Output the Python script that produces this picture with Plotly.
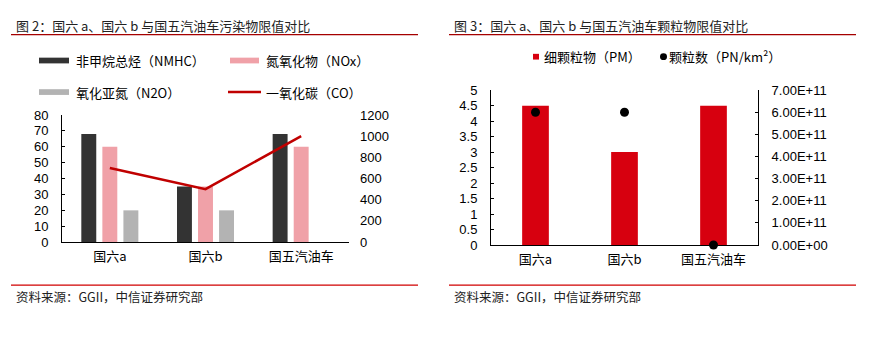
import plotly.graph_objects as go

W, H = 876, 339

# ---------------- data ----------------
categories = ["国六a", "国六b", "国五汽油车"]
nmhc = [68, 35, 68]
nox = [60, 35, 60]
n2o = [20, 20, None]
co = [700, 500, 1000]

pm = [4.5, 3, 4.5]
pn = [6e11, 6e11, 0]

pn_tickvals = [0, 1e11, 2e11, 3e11, 4e11, 5e11, 6e11, 7e11]
pn_ticktext = ["0.00E+00", "1.00E+11", "2.00E+11", "3.00E+11",
               "4.00E+11", "5.00E+11", "6.00E+11", "7.00E+11"]
pm_tickvals = [0, 0.5, 1, 1.5, 2, 2.5, 3, 3.5, 4, 4.5, 5]
pm_ticktext = ["0", "0.5", "1", "1.5", "2", "2.5", "3", "3.5", "4", "4.5", "5"]

title_left = "图 2：国六 a、国六 b 与国五汽油车污染物限值对比"
title_right = "图 3：国六 a、国六 b 与国五汽油车颗粒物限值对比"
source_text = "资料来源：GGII，中信证券研究部"

FONT = "Liberation Sans, Arial, Noto Sans CJK SC, sans-serif"
CJK = "Noto Sans CJK SC, Liberation Sans, sans-serif"

C_NMHC = "#333333"
C_NOX = "#f0a1a8"
C_N2O = "#b3b3b3"
C_CO = "#c00000"
C_PM = "#d7000f"


def px(x):
    return x / W


def py(y):
    return 1 - y / H


fig = go.Figure()

# ---- left chart ----
fig.add_trace(go.Bar(x=categories, y=nmhc, name="非甲烷总烃（NMHC）",
                     marker=dict(color=C_NMHC, line=dict(width=0)),
                     xaxis="x", yaxis="y", showlegend=False))
fig.add_trace(go.Bar(x=categories, y=nox, name="氮氧化物（NOx）",
                     marker=dict(color=C_NOX, line=dict(width=0)),
                     xaxis="x", yaxis="y", showlegend=False))
fig.add_trace(go.Bar(x=categories, y=n2o, name="氧化亚氮（N2O）",
                     marker=dict(color=C_N2O, line=dict(width=0)),
                     xaxis="x", yaxis="y", showlegend=False))
fig.add_trace(go.Scatter(x=categories, y=co, name="一氧化碳（CO）", mode="lines",
                         line=dict(color=C_CO, width=2.5),
                         xaxis="x", yaxis="y2", showlegend=False))

# ---- right chart ----
fig.add_trace(go.Bar(x=categories, y=pm, name="细颗粒物（PM）", width=0.3,
                     marker=dict(color=C_PM, line=dict(width=0)),
                     xaxis="x2", yaxis="y3", showlegend=False))
fig.add_trace(go.Scatter(x=categories, y=pn, name="颗粒数（PN/km²）", mode="markers",
                         marker=dict(color="#000000", size=9),
                         xaxis="x2", yaxis="y4", showlegend=False, cliponaxis=False))

tickfont = dict(family=FONT, size=13, color="#000000")

common_y = dict(showgrid=False, zeroline=False, showline=True, linecolor="#000000",
                linewidth=1, ticks="inside", ticklen=3, tickcolor="#000000",
                tickfont=tickfont, ticklabelstandoff=10)

fig.update_layout(
    width=W, height=H,
    margin=dict(l=0, r=0, t=0, b=0),
    paper_bgcolor="white", plot_bgcolor="white",
    barmode="group", bargap=0.34, bargroupgap=0.29,
    showlegend=False,
    font=dict(family=FONT, size=13, color="#000000"),
    xaxis=dict(domain=[px(62), px(349)], anchor="y", showgrid=False, zeroline=False,
               showline=True, linecolor="#000000", linewidth=1, ticks="",
               tickfont=dict(family=CJK, size=13, color="#000000"),
               ticklabelstandoff=2),
    yaxis=dict(domain=[py(246), py(113)], anchor="x", range=[0, 80], dtick=10,
               **common_y),
    yaxis2=dict(overlaying="y", side="right", anchor="x", range=[0, 1200], dtick=200,
                showgrid=False, zeroline=False, showline=False, ticks="",
                tickfont=tickfont, ticklabelstandoff=10),
    xaxis2=dict(domain=[px(491), px(758)], anchor="y3", showgrid=False, zeroline=False,
                showline=True, linecolor="#000000", linewidth=1, ticks="",
                tickfont=dict(family=CJK, size=13, color="#000000"),
                ticklabelstandoff=2),
    yaxis3=dict(domain=[py(249), py(87)], anchor="x2", range=[0, 5],
                tickvals=pm_tickvals, ticktext=pm_ticktext, **common_y),
    yaxis4=dict(overlaying="y3", side="right", anchor="x2", range=[0, 7e11],
                tickvals=pn_tickvals, ticktext=pn_ticktext, **common_y),
)

shapes = []
annotations = []

# titles and rules
for x_text, x0, x1, title in [(14, 11, 418, title_left), (452, 449, 856, title_right)]:
    annotations.append(dict(x=px(x_text), y=py(19), xref="paper", yref="paper",
                            text=title, showarrow=False, xanchor="left", yanchor="middle",
                            font=dict(family=CJK, size=13, color="#222222")))
    shapes.append(dict(type="line", xref="paper", yref="paper",
                       x0=px(x0), x1=px(x1), y0=py(29), y1=py(29),
                       line=dict(color="#a50000", width=1.3)))
    # footer
    shapes.append(dict(type="line", xref="paper", yref="paper",
                       x0=px(x0), x1=px(x1), y0=py(291), y1=py(291),
                       line=dict(color="#d00000", width=1.3)))
    annotations.append(dict(x=px(x_text), y=py(303), xref="paper", yref="paper",
                            text=source_text, showarrow=False, xanchor="left",
                            yanchor="middle",
                            font=dict(family=CJK, size=12.5, color="#222222")))

# left legend (manual)
leg_items = [
    (39, 69, 56, C_NMHC, "rect", "非甲烷总烃（NMHC）", 74),
    (230, 259, 56, C_NOX, "rect", "氮氧化物（NOx）", 264),
    (39, 69, 89, C_N2O, "rect", "氧化亚氮（N2O）", 74),
    (228, 261, 89, C_CO, "line", "一氧化碳（CO）", 264),
]
for x0, x1, yc, col, kind, label, xt in leg_items:
    if kind == "rect":
        shapes.append(dict(type="rect", xref="paper", yref="paper",
                           x0=px(x0), x1=px(x1), y0=py(yc + 3), y1=py(yc - 3),
                           fillcolor=col, line=dict(width=0)))
    else:
        shapes.append(dict(type="line", xref="paper", yref="paper",
                           x0=px(x0), x1=px(x1), y0=py(yc), y1=py(yc),
                           line=dict(color=col, width=2.5)))
    annotations.append(dict(x=px(xt), y=py(yc), xref="paper", yref="paper",
                            text=label, showarrow=False, xanchor="left", yanchor="middle",
                            font=dict(family=CJK, size=13, color="#000000")))

# right legend (manual)
shapes.append(dict(type="rect", xref="paper", yref="paper",
                   x0=px(533), x1=px(539), y0=py(55), y1=py(49),
                   fillcolor=C_PM, line=dict(width=0)))
annotations.append(dict(x=px(542), y=py(52), xref="paper", yref="paper",
                        text="细颗粒物（PM）", showarrow=False, xanchor="left",
                        yanchor="middle", font=dict(family=CJK, size=13, color="#000000")))
shapes.append(dict(type="circle", xref="paper", yref="paper",
                   x0=px(660), x1=px(667), y0=py(55.5), y1=py(48.5),
                   fillcolor="#000000", line=dict(width=0)))
annotations.append(dict(x=px(667), y=py(52), xref="paper", yref="paper",
                        text="颗粒数（PN/km²）", showarrow=False, xanchor="left",
                        yanchor="middle", font=dict(family=CJK, size=13, color="#000000")))

fig.update_layout(shapes=shapes, annotations=annotations)

fig.write_html("out.html")
